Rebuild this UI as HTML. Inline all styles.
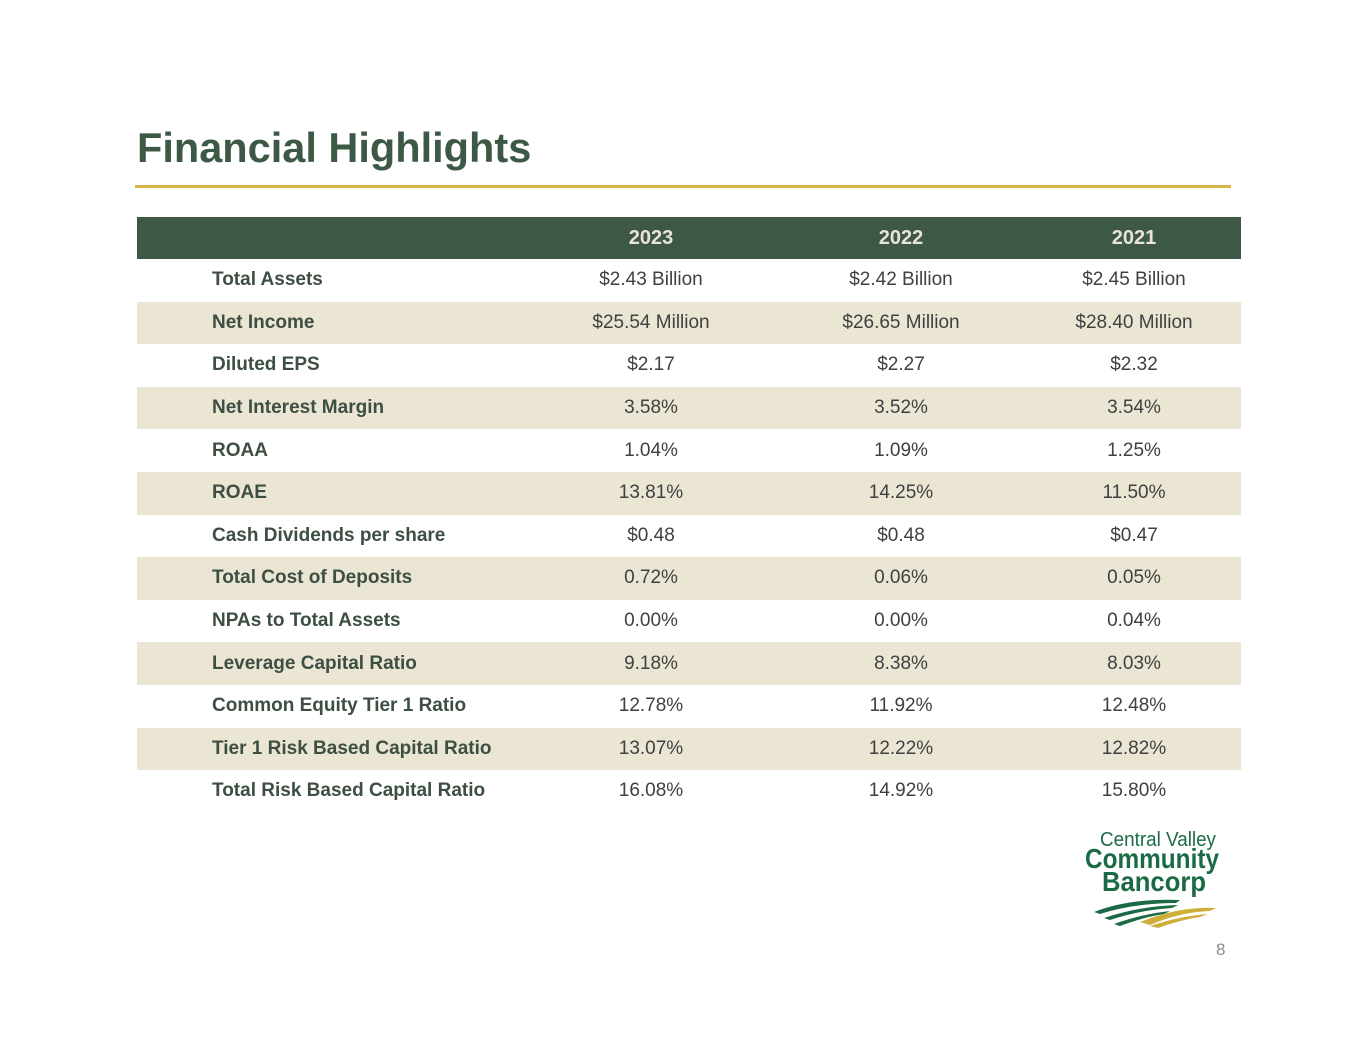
<!DOCTYPE html>
<html><head><meta charset="utf-8"><style>
body{margin:0;width:1365px;height:1055px;background:#fff;position:relative;font-family:"Liberation Sans",sans-serif;overflow:hidden}
.title{position:absolute;left:137px;top:124px;font-size:41.5px;line-height:48px;font-weight:bold;color:#3d5945;margin:0}
.rule{position:absolute;left:135px;top:185px;width:1096px;height:3px;background:#d8b54c}
table{position:absolute;left:137px;top:217px;width:1104px;border-collapse:collapse}
th{background:#3d5945;color:#e8e4d8;font-size:20px;height:42px;line-height:42px;padding:0;font-weight:bold}
td{height:42.6px;line-height:20px;font-size:19px;color:#404040;text-align:center;padding:0}
td.l{text-align:left;padding-left:75px;font-weight:bold;color:#3d4f42}
tr.alt td{background:#ebe5d4}
.logo{position:absolute;left:1080px;top:826px}
.pg{position:absolute;left:1216px;top:940px;font-size:17px;color:#8a8a8a}
</style></head><body>
<h1 class="title">Financial Highlights</h1>
<div class="rule"></div>
<table>
<colgroup><col style="width:390px"><col style="width:248px"><col style="width:252px"><col style="width:214px"></colgroup>
<tr><th></th><th>2023</th><th>2022</th><th>2021</th></tr>
<tr><td class="l">Total Assets</td><td>$2.43 Billion</td><td>$2.42 Billion</td><td>$2.45 Billion</td></tr>
<tr class="alt"><td class="l">Net Income</td><td>$25.54 Million</td><td>$26.65 Million</td><td>$28.40 Million</td></tr>
<tr><td class="l">Diluted EPS</td><td>$2.17</td><td>$2.27</td><td>$2.32</td></tr>
<tr class="alt"><td class="l">Net Interest Margin</td><td>3.58%</td><td>3.52%</td><td>3.54%</td></tr>
<tr><td class="l">ROAA</td><td>1.04%</td><td>1.09%</td><td>1.25%</td></tr>
<tr class="alt"><td class="l">ROAE</td><td>13.81%</td><td>14.25%</td><td>11.50%</td></tr>
<tr><td class="l">Cash Dividends per share</td><td>$0.48</td><td>$0.48</td><td>$0.47</td></tr>
<tr class="alt"><td class="l">Total Cost of Deposits</td><td>0.72%</td><td>0.06%</td><td>0.05%</td></tr>
<tr><td class="l">NPAs to Total Assets</td><td>0.00%</td><td>0.00%</td><td>0.04%</td></tr>
<tr class="alt"><td class="l">Leverage Capital Ratio</td><td>9.18%</td><td>8.38%</td><td>8.03%</td></tr>
<tr><td class="l">Common Equity Tier 1 Ratio</td><td>12.78%</td><td>11.92%</td><td>12.48%</td></tr>
<tr class="alt"><td class="l">Tier 1 Risk Based Capital Ratio</td><td>13.07%</td><td>12.22%</td><td>12.82%</td></tr>
<tr><td class="l">Total Risk Based Capital Ratio</td><td>16.08%</td><td>14.92%</td><td>15.80%</td></tr>
</table>
<svg class="logo" width="150" height="105">
<text x="78" y="20" text-anchor="middle" font-family="Liberation Sans" font-size="20" fill="#1a6b45" textLength="116" lengthAdjust="spacingAndGlyphs">Central Valley</text>
<text x="72" y="42" text-anchor="middle" font-family="Liberation Sans" font-weight="bold" font-size="28" fill="#1a6b45" textLength="134" lengthAdjust="spacingAndGlyphs">Community</text>
<text x="74" y="65" text-anchor="middle" font-family="Liberation Sans" font-weight="bold" font-size="28" fill="#1a6b45" textLength="104" lengthAdjust="spacingAndGlyphs">Bancorp</text>
<path d="M14 86 Q50 72 100 74 L96 77 Q55 77 20 88Z" fill="#1a6b45"/>
<path d="M24 92 Q60 80 98 79 L92 82 Q60 84 30 94Z" fill="#1a6b45"/>
<path d="M34 98 Q62 88 90 85 L84 88 Q64 91 40 100Z" fill="#1a6b45"/>
<path d="M60 96 Q100 80 136 82 L130 85 Q100 86 70 99Z" fill="#cfae3a"/>
<path d="M70 100 Q100 90 128 88 L120 91 Q100 94 78 102Z" fill="#cfae3a"/>
</svg>
<div class="pg">8</div>
</body></html>
